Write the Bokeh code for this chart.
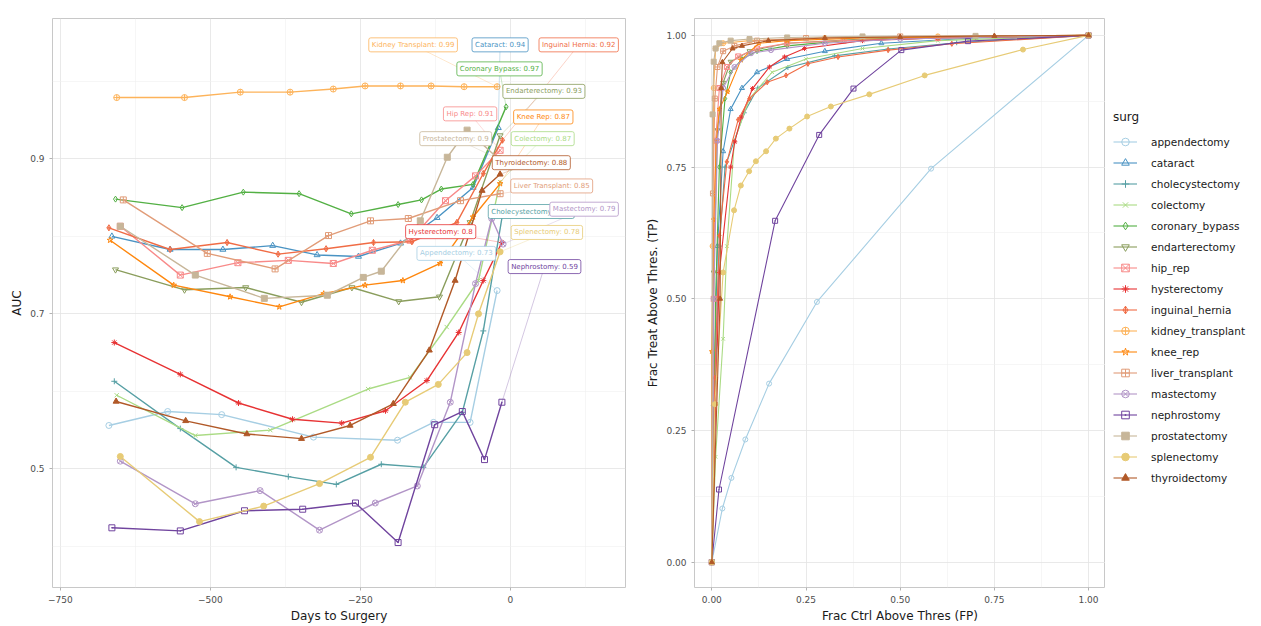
from bokeh.plotting import figure
from bokeh.models import Range1d, FixedTicker, Label, Legend, LegendItem, NumeralTickFormatter
from bokeh.layouts import row
from bokeh.embed import file_html
from bokeh.resources import INLINE

FONT = "DejaVu Sans"

surgeries = ["appendectomy", "cataract", "cholecystectomy", "colectomy", "coronary_bypass",
             "endarterectomy", "hip_rep", "hysterectomy", "inguinal_hernia", "kidney_transplant",
             "knee_rep", "liver_transplant", "mastectomy", "nephrostomy", "prostatectomy",
             "splenectomy", "thyroidectomy"]
colors = ["#A6CEE3", "#4993C3", "#569FA4", "#AADB84", "#53B044", "#8A9D5C", "#F88A89", "#E73233",
          "#F06C45", "#FDB35A", "#FE870E", "#E19C78", "#B295C7", "#70449E", "#C7B699", "#E7CB76", "#B15928"]
markers = ["circle", "triangle", "cross", "x", "diamond", "inverted_triangle", "square_x", "asterisk",
           "diamond_cross", "circle_cross", "star", "square_cross", "circle_x", "square_dot",
           "square", "circle", "triangle"]
filled = [False] * 14 + [True, True, True]

# ---------------- left panel: AUC by days to surgery ----------------
days_appendectomy = [-669, -571, -481, -328, -188, -128, -67, -22]
auc_appendectomy = [0.556, 0.574, 0.570, 0.541, 0.537, 0.560, 0.560, 0.730]
days_cataract = [-664, -567, -479, -396, -322, -253, -183, -122, -62, -20]
auc_cataract = [0.800, 0.783, 0.783, 0.788, 0.776, 0.774, 0.791, 0.824, 0.863, 0.940]
days_cholecystectomy = [-660, -550, -457, -370, -290, -215, -145, -80, -45, -12]
auc_cholecystectomy = [0.613, 0.552, 0.502, 0.490, 0.480, 0.506, 0.502, 0.573, 0.678, 0.833]
days_colectomy = [-656, -525, -400, -237, -167, -106, -53, -17]
auc_colectomy = [0.595, 0.543, 0.550, 0.603, 0.618, 0.683, 0.743, 0.870]
days_coronary_bypass = [-658, -547, -445, -352, -265, -187, -148, -115, -62, -7]
auc_coronary_bypass = [0.848, 0.837, 0.857, 0.855, 0.829, 0.841, 0.847, 0.861, 0.867, 0.967]
days_endarterectomy = [-658, -543, -441, -348, -264, -186, -118, -67, -17]
auc_endarterectomy = [0.757, 0.731, 0.734, 0.715, 0.734, 0.716, 0.722, 0.818, 0.930]
days_hip_rep = [-650, -550, -454, -370, -295, -230, -167, -108, -58, -17]
auc_hip_rep = [0.813, 0.750, 0.766, 0.769, 0.765, 0.782, 0.795, 0.846, 0.878, 0.911]
days_hysterectomy = [-660, -550, -453, -363, -281, -208, -139, -86, -45, -14]
auc_hysterectomy = [0.663, 0.622, 0.585, 0.564, 0.559, 0.575, 0.614, 0.676, 0.743, 0.792]
days_inguinal_hernia = [-669, -567, -472, -387, -307, -228, -164, -89, -45, -13]
auc_inguinal_hernia = [0.811, 0.783, 0.792, 0.777, 0.784, 0.792, 0.793, 0.818, 0.881, 0.924]
days_kidney_transplant = [-656, -543, -450, -367, -295, -242, -183, -132, -77, -22]
auc_kidney_transplant = [0.979, 0.979, 0.986, 0.986, 0.990, 0.994, 0.994, 0.994, 0.993, 0.993]
days_knee_rep = [-667, -561, -467, -385, -311, -242, -179, -117, -62, -17]
auc_knee_rep = [0.795, 0.737, 0.722, 0.709, 0.726, 0.737, 0.743, 0.765, 0.825, 0.868]
days_liver_transplant = [-645, -505, -392, -303, -233, -170, -83, -17]
auc_liver_transplant = [0.847, 0.778, 0.758, 0.801, 0.820, 0.823, 0.846, 0.855]
days_mastectomy = [-650, -525, -417, -318, -225, -155, -100, -58, -31, -12]
auc_mastectomy = [0.510, 0.455, 0.472, 0.421, 0.456, 0.478, 0.586, 0.739, 0.823, 0.790]
days_nephrostomy = [-664, -550, -443, -346, -258, -187, -126, -80, -43, -14]
auc_nephrostomy = [0.424, 0.420, 0.446, 0.448, 0.456, 0.405, 0.557, 0.574, 0.512, 0.586]
days_prostatectomy = [-650, -525, -410, -305, -245, -215, -150, -105, -72, -20]
auc_prostatectomy = [0.813, 0.750, 0.720, 0.724, 0.747, 0.755, 0.820, 0.902, 0.937, 0.900]
days_splenectomy = [-650, -518, -411, -318, -233, -175, -120, -72, -53, -17]
auc_splenectomy = [0.516, 0.432, 0.452, 0.481, 0.515, 0.586, 0.609, 0.650, 0.700, 0.780]
days_thyroidectomy = [-657, -541, -439, -348, -267, -195, -135, -92, -47, -17]
auc_thyroidectomy = [0.587, 0.562, 0.545, 0.539, 0.556, 0.584, 0.653, 0.743, 0.859, 0.880]

label_texts = ["Appendectomy: 0.73", "Cataract: 0.94", "Cholecystectomy: 0.83", "Colectomy: 0.87",
               "Coronary Bypass: 0.97", "Endarterectomy: 0.93", "Hip Rep: 0.91", "Hysterectomy: 0.8",
               "Inguinal Hernia: 0.92", "Kidney Transplant: 0.99", "Knee Rep: 0.87",
               "Liver Transplant: 0.85", "Mastectomy: 0.79", "Nephrostomy: 0.59",
               "Prostatectomy: 0.9", "Splenectomy: 0.78", "Thyroidectomy: 0.88"]
# label placement (layout, in data units)
label_x = [-90, -17, 35, 54, -18, 56, -67, -116, 114, -162, 55, 69, 123, 57, -91, 61, 35]
label_y = [0.778, 1.047, 0.832, 0.926, 1.016, 0.987, 0.958, 0.806, 1.047, 1.047, 0.954,
           0.865, 0.835, 0.761, 0.926, 0.805, 0.895]

# ---------------- right panel: ROC-like curves ----------------
fp_appendectomy = [0, 0.028, 0.052, 0.089, 0.152, 0.279, 0.582, 1.0]
tp_appendectomy = [0, 0.102, 0.160, 0.233, 0.339, 0.494, 0.747, 1.0]
fp_cataract = [0, 0.005, 0.015, 0.03, 0.05, 0.08, 0.12, 0.2, 0.3, 0.45, 0.7, 1.0]
tp_cataract = [0, 0.3, 0.6, 0.78, 0.86, 0.9, 0.93, 0.955, 0.97, 0.985, 0.995, 1.0]
fp_cholecystectomy = [0, 0.01, 0.02, 0.035, 0.086, 0.122, 0.202, 0.326, 0.468, 0.65, 1.0]
tp_cholecystectomy = [0, 0.35, 0.6, 0.75, 0.853, 0.90, 0.939, 0.961, 0.974, 0.986, 1.0]
fp_colectomy = [0, 0.01, 0.03, 0.04, 0.06, 0.1, 0.16, 0.25, 0.4, 0.6, 1.0]
tp_colectomy = [0, 0.2, 0.424, 0.60, 0.80, 0.88, 0.93, 0.955, 0.975, 0.99, 1.0]
fp_coronary_bypass = [0, 0.01, 0.02, 0.035, 0.05, 0.08, 0.12, 0.2, 0.35, 0.6, 1.0]
tp_coronary_bypass = [0, 0.5, 0.75, 0.88, 0.93, 0.955, 0.97, 0.98, 0.99, 0.995, 1.0]
fp_endarterectomy = [0, 0.005, 0.015, 0.03, 0.05, 0.1, 0.2, 0.4, 0.7, 1.0]
tp_endarterectomy = [0, 0.55, 0.82, 0.91, 0.95, 0.97, 0.985, 0.993, 0.998, 1.0]
fp_hip_rep = [0, 0.005, 0.01, 0.02, 0.04, 0.07, 0.12, 0.2, 0.35, 0.6, 1.0]
tp_hip_rep = [0, 0.5, 0.8, 0.9, 0.94, 0.96, 0.975, 0.985, 0.99, 0.995, 1.0]
fp_hysterectomy = [0, 0.01, 0.02, 0.05, 0.061, 0.078, 0.108, 0.153, 0.193, 0.246, 0.4, 0.6, 1.0]
tp_hysterectomy = [0, 0.3, 0.55, 0.75, 0.798, 0.845, 0.899, 0.940, 0.959, 0.975, 0.99, 0.995, 1.0]
fp_inguinal_hernia = [0, 0.008, 0.02, 0.04, 0.07, 0.1, 0.147, 0.197, 0.255, 0.335, 0.468, 0.637, 1.0]
tp_inguinal_hernia = [0, 0.35, 0.62, 0.76, 0.84, 0.88, 0.911, 0.924, 0.946, 0.959, 0.972, 0.984, 1.0]
fp_kidney_transplant = [0, 0.002, 0.005, 0.01, 0.03, 0.1, 0.3, 0.6, 1.0]
tp_kidney_transplant = [0, 0.6, 0.9, 0.975, 0.985, 0.99, 0.995, 0.998, 1.0]
fp_knee_rep = [0, 0.0, 0.005, 0.012, 0.02, 0.042, 0.077, 0.125, 0.2, 0.4, 1.0]
tp_knee_rep = [0, 0.4, 0.65, 0.8, 0.86, 0.893, 0.953, 0.985, 0.99, 0.995, 1.0]
fp_liver_transplant = [0, 0.003, 0.008, 0.015, 0.03, 0.06, 0.12, 0.25, 0.5, 1.0]
tp_liver_transplant = [0, 0.7, 0.88, 0.94, 0.97, 0.98, 0.99, 0.995, 0.998, 1.0]
fp_mastectomy = [0, 0.005, 0.015, 0.03, 0.06, 0.104, 0.157, 0.3, 0.5, 1.0]
tp_mastectomy = [0, 0.5, 0.8, 0.9, 0.94, 0.966, 0.972, 0.985, 0.993, 1.0]
fp_nephrostomy = [0, 0.019, 0.168, 0.285, 0.376, 0.503, 0.680, 1.0]
tp_nephrostomy = [0, 0.138, 0.648, 0.811, 0.899, 0.972, 0.989, 1.0]
fp_prostatectomy = [0, 0.002, 0.005, 0.01, 0.02, 0.05, 0.1, 0.2, 0.4, 0.7, 1.0]
tp_prostatectomy = [0, 0.85, 0.95, 0.975, 0.985, 0.99, 0.993, 0.996, 0.998, 0.999, 1.0]
fp_splenectomy = [0, 0.008, 0.03, 0.059, 0.077, 0.099, 0.117, 0.144, 0.170, 0.206, 0.253, 0.316,
                  0.418, 0.565, 0.826, 1.0]
tp_splenectomy = [0, 0.3, 0.55, 0.668, 0.715, 0.742, 0.761, 0.780, 0.804, 0.823, 0.846, 0.865,
                  0.888, 0.924, 0.973, 1.0]
fp_thyroidectomy = [0, 0.022, 0.025, 0.028, 0.055, 0.08, 0.15, 0.3, 0.5, 0.75, 1.0]
tp_thyroidectomy = [0, 0.5, 0.9, 0.949, 0.975, 0.98, 0.99, 0.995, 0.997, 0.999, 1.0]

left_data = {
    "appendectomy": (days_appendectomy, auc_appendectomy),
    "cataract": (days_cataract, auc_cataract),
    "cholecystectomy": (days_cholecystectomy, auc_cholecystectomy),
    "colectomy": (days_colectomy, auc_colectomy),
    "coronary_bypass": (days_coronary_bypass, auc_coronary_bypass),
    "endarterectomy": (days_endarterectomy, auc_endarterectomy),
    "hip_rep": (days_hip_rep, auc_hip_rep),
    "hysterectomy": (days_hysterectomy, auc_hysterectomy),
    "inguinal_hernia": (days_inguinal_hernia, auc_inguinal_hernia),
    "kidney_transplant": (days_kidney_transplant, auc_kidney_transplant),
    "knee_rep": (days_knee_rep, auc_knee_rep),
    "liver_transplant": (days_liver_transplant, auc_liver_transplant),
    "mastectomy": (days_mastectomy, auc_mastectomy),
    "nephrostomy": (days_nephrostomy, auc_nephrostomy),
    "prostatectomy": (days_prostatectomy, auc_prostatectomy),
    "splenectomy": (days_splenectomy, auc_splenectomy),
    "thyroidectomy": (days_thyroidectomy, auc_thyroidectomy),
}
right_data = {
    "appendectomy": (fp_appendectomy, tp_appendectomy),
    "cataract": (fp_cataract, tp_cataract),
    "cholecystectomy": (fp_cholecystectomy, tp_cholecystectomy),
    "colectomy": (fp_colectomy, tp_colectomy),
    "coronary_bypass": (fp_coronary_bypass, tp_coronary_bypass),
    "endarterectomy": (fp_endarterectomy, tp_endarterectomy),
    "hip_rep": (fp_hip_rep, tp_hip_rep),
    "hysterectomy": (fp_hysterectomy, tp_hysterectomy),
    "inguinal_hernia": (fp_inguinal_hernia, tp_inguinal_hernia),
    "kidney_transplant": (fp_kidney_transplant, tp_kidney_transplant),
    "knee_rep": (fp_knee_rep, tp_knee_rep),
    "liver_transplant": (fp_liver_transplant, tp_liver_transplant),
    "mastectomy": (fp_mastectomy, tp_mastectomy),
    "nephrostomy": (fp_nephrostomy, tp_nephrostomy),
    "prostatectomy": (fp_prostatectomy, tp_prostatectomy),
    "splenectomy": (fp_splenectomy, tp_splenectomy),
    "thyroidectomy": (fp_thyroidectomy, tp_thyroidectomy),
}


def style(p, xt, xminor, yt, yminor):
    p.xaxis.ticker = FixedTicker(ticks=xt, minor_ticks=xminor)
    p.yaxis.ticker = FixedTicker(ticks=yt, minor_ticks=yminor)
    for ax in (p.xaxis, p.yaxis):
        ax.axis_line_color = None
        ax.major_tick_line_color = "#B3B3B3"
        ax.major_tick_out = 3
        ax.major_tick_in = 0
        ax.minor_tick_line_color = None
        ax.major_label_text_font = FONT
        ax.major_label_text_font_size = "9px"
        ax.major_label_text_color = "#4D4D4D"
        ax.axis_label_text_font = FONT
        ax.axis_label_text_font_size = "12px"
        ax.axis_label_text_font_style = "normal"
        ax.axis_label_text_color = "#1A1A1A"
        ax.axis_label_standoff = 3
        ax.major_label_standoff = 4
    for g in (p.xgrid, p.ygrid):
        g.grid_line_color = "#E3E3E3"
        g.grid_line_width = 0.8
        g.minor_grid_line_color = "#F0F0F0"
        g.minor_grid_line_width = 0.6
    p.outline_line_color = "#C8C8C8"
    p.outline_line_width = 1
    p.background_fill_color = "white"
    p.border_fill_color = "white"


# ---- left figure
p1 = figure(frame_width=573, frame_height=569, output_backend="svg", toolbar_location=None,
            x_range=Range1d(-763, 192), y_range=Range1d(0.347, 1.081),
            min_border_left=52, min_border_right=11, min_border_top=18, min_border_bottom=39,
            x_axis_label="Days to Surgery", y_axis_label="AUC")
style(p1, [-750, -500, -250, 0], [-625, -375, -125, 125], [0.5, 0.7, 0.9], [0.4, 0.6, 0.8, 1.0])

for i, s in enumerate(surgeries):
    xs, ys = left_data[s]
    c = colors[i]
    p1.line(xs, ys, line_color=c, line_width=1.4)
    p1.scatter(xs, ys, marker=markers[i], size=6, line_color=c, line_width=1,
               fill_color=c if filled[i] else None)

# leader segments from labels to last points
for i, s in enumerate(surgeries):
    xs, ys = left_data[s]
    p1.segment(x0=[label_x[i]], y0=[label_y[i]], x1=[xs[-1]], y1=[ys[-1]],
               line_color=colors[i], line_width=0.6, line_alpha=0.5)

for i, s in enumerate(surgeries):
    p1.add_layout(Label(x=label_x[i], y=label_y[i], text=label_texts[i],
                        text_font=FONT, text_font_size="7px", text_color=colors[i],
                        text_align="center", text_baseline="middle",
                        background_fill_color="white", border_line_color=colors[i],
                        border_line_width=0.8, padding=3, border_radius=2))

# ---- right figure
p2 = figure(frame_width=411, frame_height=569, output_backend="svg", toolbar_location=None,
            x_range=Range1d(-0.046, 1.045), y_range=Range1d(-0.048, 1.032),
            min_border_left=58, min_border_right=0, min_border_top=18, min_border_bottom=39,
            x_axis_label="Frac Ctrl Above Thres (FP)", y_axis_label="Frac Treat Above Thres. (TP)")
style(p2, [0, 0.25, 0.5, 0.75, 1.0], [0.125, 0.375, 0.625, 0.875],
      [0, 0.25, 0.5, 0.75, 1.0], [0.125, 0.375, 0.625, 0.875])
p2.xaxis.formatter = NumeralTickFormatter(format="0.00")
p2.yaxis.formatter = NumeralTickFormatter(format="0.00")

for i, s in enumerate(surgeries):
    xs, ys = right_data[s]
    c = colors[i]
    p2.line(xs, ys, line_color=c, line_width=1.1)
    p2.scatter(xs, ys, marker=markers[i], size=5, line_color=c, line_width=1,
               fill_color=c if filled[i] else None)

# ---- legend figure: same series drawn out of view, only the key is visible
p3 = figure(frame_width=156, frame_height=569, output_backend="svg", toolbar_location=None,
            x_range=Range1d(5, 6), y_range=Range1d(5, 6), x_axis_type=None, y_axis_type=None,
            min_border_left=0, min_border_right=0, min_border_top=18, min_border_bottom=39)
p3.grid.visible = False
p3.outline_line_color = None
p3.border_fill_color = "white"
p3.background_fill_color = "white"
items = []
for i, s in enumerate(surgeries):
    xs, ys = right_data[s]
    c = colors[i]
    lr = p3.line(xs, ys, line_color=c, line_width=1.1)
    sr = p3.scatter(xs, ys, marker=markers[i], size=5, line_color=c, line_width=1,
                    fill_color=c if filled[i] else None)
    items.append(LegendItem(label=s, renderers=[lr, sr]))

legend = Legend(items=items, title="surg", location=(8, 100),
                label_text_font=FONT, label_text_font_size="10.5px", label_text_color="#1A1A1A",
                title_text_font=FONT, title_text_font_size="12px", title_text_font_style="normal",
                title_text_color="#1A1A1A", title_standoff=8,
                glyph_width=24, glyph_height=19, label_height=19, spacing=2,
                label_standoff=14, padding=2, margin=0,
                border_line_color=None, background_fill_alpha=0)
p3.add_layout(legend)

layout = row(p1, p2, p3)
open("out.html", "w").write(file_html(layout, INLINE))
